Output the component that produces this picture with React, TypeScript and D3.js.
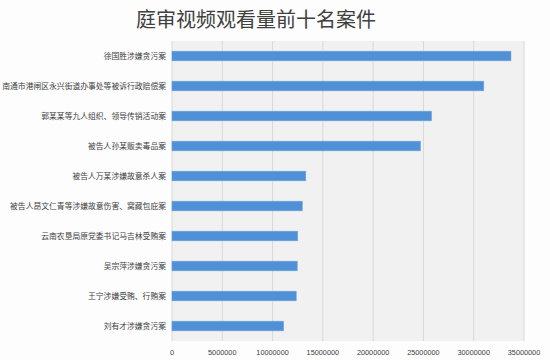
import * as d3 from 'd3'

const cases = [
  '徐国胜涉嫌贪污案',
  '南通市港闸区永兴街道办事处等被诉行政赔偿案',
  '郭某某等九人组织、领导传销活动案',
  '被告人孙某贩卖毒品案',
  '被告人万某涉嫌故意杀人案',
  '被告人昂文仁青等涉嫌故意伤害、窝藏包庇案',
  '云南农垦局原党委书记马吉林受贿案',
  '吴宗萍涉嫌贪污案',
  '王宁涉嫌受贿、行贿案',
  '刘有才涉嫌贪污案',
]

const views = [33700000, 31000000, 25800000, 24700000, 13300000, 12950000, 12500000, 12450000, 12350000, 11100000]

const xTicks = [0, 5000000, 10000000, 15000000, 20000000, 25000000, 30000000, 35000000]

export default function App() {
  const width = 550
  const height = 360
  const plot = { left: 172, right: 524, top: 41, bottom: 341 }

  const x = d3.scaleLinear().domain([0, 35000000]).range([plot.left, plot.right])
  const y = d3.scaleBand<string>().domain(cases).range([plot.top, plot.bottom]).paddingInner(0.68).paddingOuter(0.34)

  const font = '"Noto Sans CJK SC", "Noto Sans", sans-serif'

  return (
    <svg width={width} height={height} style={{ position: 'absolute', left: 0, top: 0, background: '#fdfdfe' }}>
      <text x={256} y={27} textAnchor="middle" fontSize={20} fill="#404040" fontFamily={font}>
        庭审视频观看量前十名案件
      </text>

      {/* plot background */}
      <rect x={plot.left} y={plot.top} width={plot.right - plot.left} height={plot.bottom - plot.top} fill="#f1f1f1" />

      {/* grid */}
      {xTicks.map(t => (
        <line key={t} x1={x(t)} x2={x(t)} y1={plot.top} y2={plot.bottom} stroke="#d9d9d9" strokeWidth={1} />
      ))}

      {/* bars */}
      {cases.map((c, i) => (
        <rect
          key={c}
          x={x(0)}
          y={y(c)}
          width={x(views[i]) - x(0)}
          height={y.bandwidth()}
          fill="#4f90d6"
          stroke="#6aa3de"
          strokeWidth={0.6}
        />
      ))}

      {/* category labels */}
      {cases.map(c => (
        <text
          key={c}
          x={166}
          y={(y(c) ?? 0) + y.bandwidth() / 2}
          dy="0.35em"
          textAnchor="end"
          fontSize={7.8}
          fill="#404040"
          fontFamily={font}
        >
          {c}
        </text>
      ))}

      {/* x tick labels */}
      {xTicks.map(t => (
        <text
          key={t}
          x={x(t)}
          y={352}
          dy="0.35em"
          textAnchor="middle"
          fontSize={7.3}
          fill="#404040"
          fontFamily='"Liberation Sans", Arial, sans-serif'
        >
          {t}
        </text>
      ))}
    </svg>
  )
}
